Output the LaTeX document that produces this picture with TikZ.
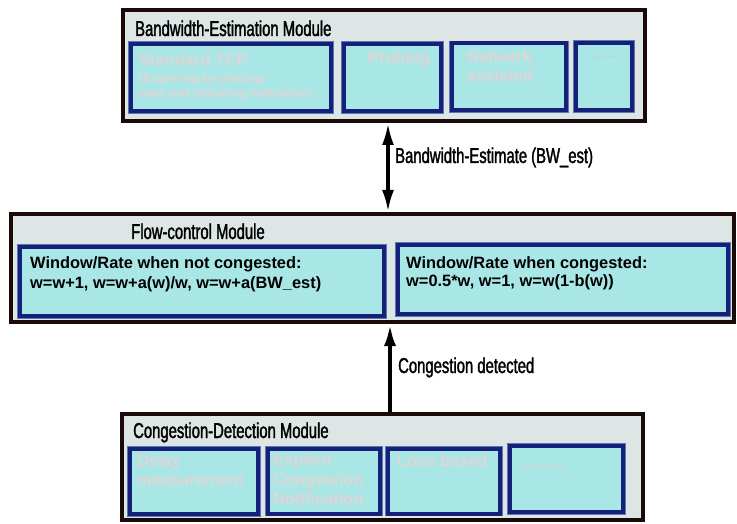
\documentclass[tikz,border=0pt]{standalone}
\usepackage{fontspec}
\setmainfont{Liberation Sans}
\newfontfamily\narrowfont[FakeStretch=0.69,FakeBold=1.5]{Liberation Sans}
\usetikzlibrary{arrows.meta}

\definecolor{modfill}{HTML}{DDE5E5}
\definecolor{modline}{HTML}{1A0B08}
\definecolor{subfill}{HTML}{A9E7E7}
\definecolor{subline}{HTML}{14207A}
\definecolor{subedge}{HTML}{5A78B0}
\definecolor{faintgray}{HTML}{E0D4D4}
\definecolor{dotgray}{HTML}{C4CCD4}

\begin{document}
\begin{tikzpicture}[
    x=1pt, y=-1pt,
    >={Latex[length=22pt,width=12pt]},
    module/.style={rectangle, draw=modline, fill=modfill, line width=4pt, inner sep=0pt},
    subbox/.style={rectangle, draw=subline, fill=subfill, line width=4pt, inner sep=0pt,
        preaction={draw=subedge, line width=5.5pt}},
    title/.style={anchor=base west, inner sep=0pt, font=\narrowfont\fontsize{21.5}{26}\selectfont},
    faint/.style={anchor=base west, inner sep=0pt, text=faintgray, font=\bfseries\fontsize{16.4}{20}\selectfont},
    faintsmall/.style={faint, font=\bfseries\fontsize{12.2}{15}\selectfont},
    rule/.style={anchor=base west, inner sep=0pt, font=\bfseries\fontsize{16.4}{20}\selectfont}
]
\useasboundingbox (0,0) rectangle (737,524);

% Arrow lanes
\coordinate (laneA) at (388,0);
\coordinate (laneB) at (390,0);

% === Bandwidth estimation ===
\node[module, minimum width=522pt, minimum height=111pt] (bwe) at (384,65.5) {};
\node[title] (bweT) at (135,36) {Bandwidth-Estimation Module};

\node[subbox, minimum width=200pt, minimum height=67pt] (tcp) at (231,77.5) {};
\node[subbox, minimum width=97pt, minimum height=67pt] (probe) at (392.5,77.5) {};
\node[subbox, minimum width=114pt, minimum height=67pt] (netas) at (509,77) {};
\node[subbox, minimum width=56pt, minimum height=67pt] (bweX) at (604,76.5) {};

\node[faint] (tcpA) at (139,66) {Standard TCP};
\node[faintsmall] (tcpB) at (139,83) {(Exploring by placing};
\node[faintsmall] (tcpC) at (139,98) {load and obtaining indication)};
\node[faint] (probeA) at (368,64) {Probing};
\node[faint] (netasA) at (467,63) {Network};
\node[faint] (netasB) at (467,82) {assisted};
\node[faintsmall, text=dotgray, font=\bfseries\fontsize{10}{12}\selectfont] (bweXA) at (592,59) {.........};

% === Flow control ===
\node[module, minimum width=723pt, minimum height=108pt] (flow) at (372.5,268) {};
\node[title] (flowT) at (131,239) {Flow-control Module};

\node[subbox, minimum width=364pt, minimum height=69pt] (nocong) at (202,281.5) {};
\node[subbox, minimum width=330pt, minimum height=69pt] (cong) at (563,279.5) {};

\node[rule] (nocongA) at (30,269) {Window/Rate when not congested:};
\node[rule] (nocongB) at (30,288) {w=w+1, w=w+a(w)/w, w=w+a(BW\_est)};
\node[rule] (congA) at (406,268) {Window/Rate when congested:};
\node[rule] (congB) at (406,287) {w=0.5*w, w=1, w=w(1-b(w))};

% === Congestion detection ===
\node[module, minimum width=521pt, minimum height=106pt] (cdm) at (382.5,467) {};
\node[title] (cdmT) at (133,438) {Congestion-Detection Module};

\node[subbox, minimum width=128pt, minimum height=65pt] (delay) at (194,481.5) {};
\node[subbox, minimum width=112pt, minimum height=65pt] (ecn) at (324,481) {};
\node[subbox, minimum width=112pt, minimum height=65pt] (loss) at (444,481) {};
\node[subbox, minimum width=113pt, minimum height=66pt] (cdmX) at (566.5,479) {};

\node[faint] (delayA) at (137,466) {Delay};
\node[faint] (delayB) at (137,485) {measurement};
\node[faint] (ecnA) at (273,465) {Explicit};
\node[faint] (ecnB) at (273,485) {Congestion};
\node[faint] (ecnC) at (273,504) {Notification};
\node[faint] (lossA) at (397,466) {Loss based};
\node[faint] (cdmXA) at (522,468) {.........};

% Connectors
\draw[<->, line width=3.5pt] (bwe.south -| laneA) -- (flow.north -| laneA);
\node[title] (bwest) at (395,163) {Bandwidth-Estimate (BW\_est)};

\draw[->, line width=4pt] (cdm.north -| laneB) -- (flow.south -| laneB);
\node[title] (congdet) at (398,373) {Congestion detected};
\end{tikzpicture}
\end{document}
